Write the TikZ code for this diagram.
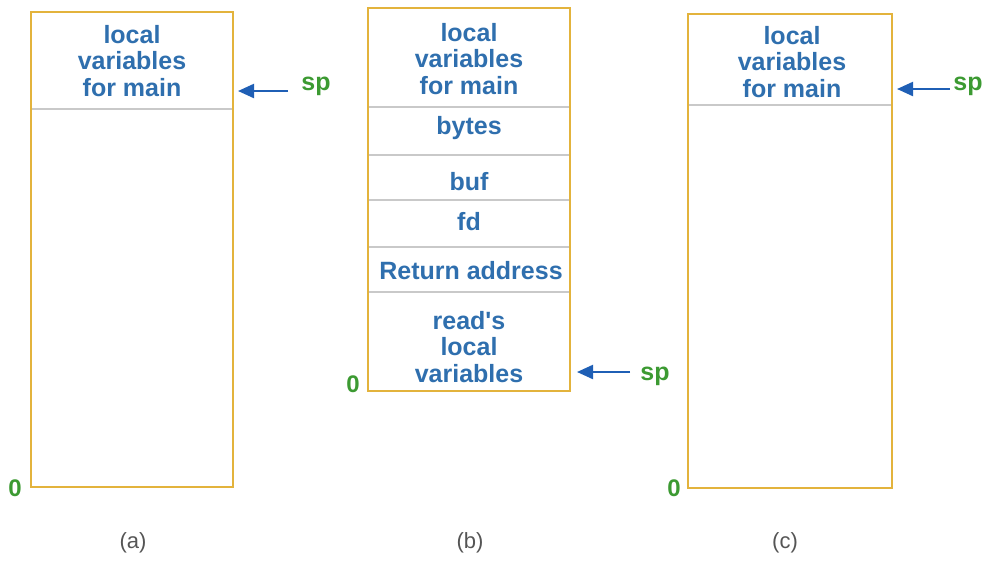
\documentclass[tikz,border=0pt]{standalone}
\usepackage{fontspec}
\setmainfont{Liberation Sans}[Ligatures=TeXOff]
\usetikzlibrary{arrows.meta}
\definecolor{frameyellow}{HTML}{E3B33C}
\definecolor{rulegrey}{HTML}{C9C9C9}
\definecolor{textblue}{HTML}{2F6FAE}
\definecolor{spgreen}{HTML}{3C9A32}
\definecolor{arrowblue}{HTML}{1F5FB5}
\definecolor{capgrey}{HTML}{555555}
\begin{document}
\begin{tikzpicture}[x=0.5pt,y=-0.5pt,
  frame/.style={draw=frameyellow,line width=1.1pt},
  divider/.style={draw=rulegrey,line width=0.7pt},
  cell/.style={text=textblue,font=\fontsize{12.5}{13.4}\selectfont\bfseries,align=center,inner sep=0pt},
  splabel/.style={text=spgreen,font=\fontsize{12.5}{13}\selectfont\bfseries,inner sep=0pt},
  zerolabel/.style={text=spgreen,font=\fontsize{12}{13}\selectfont\bfseries,inner sep=0pt},
  caption/.style={text=capgrey,font=\fontsize{11}{12}\selectfont,inner sep=0pt},
  sparrow/.style={draw=arrowblue,line width=1.1pt,-{Triangle[length=8pt,width=7pt]}}]
\useasboundingbox (0,0) rectangle (990,563);

% ---- stack (a) ----
\draw[divider] (31,109) -- (233,109);
\draw[frame] (31,12) rectangle (233,487);
\node[cell] (a-main) at (132,61) {local\\variables\\for main};
\node[splabel] (a-sp) at (316,86) {sp};
\coordinate (a-tail) at (288,91);
\coordinate (a-tip) at (238,91);
\draw[sparrow] (a-tail) -- (a-tip);
\node[zerolabel] (a-zero) at (15,488) {0};
\node[caption] (a-cap) at (133,543) {(a)};

% ---- stack (b) ----
\foreach \y in {107,155,200,247,292} \draw[divider] (368,\y) -- (570,\y);
\draw[frame] (368,8) rectangle (570,391);
\node[cell] (b-main) at (469,59) {local\\variables\\for main};
\node[cell] (b-bytes) at (469,128) {bytes};
\node[cell] (b-buf) at (469,182) {buf};
\node[cell] (b-fd) at (469,222) {fd};
\node[cell] (b-ret) at (471,271) {Return address};
\node[cell] (b-read) at (469,347) {read's\\local\\variables};
\node[splabel] (b-sp) at (655,376) {sp};
\coordinate (b-tail) at (630,372);
\coordinate (b-tip) at (577,372);
\draw[sparrow] (b-tail) -- (b-tip);
\node[zerolabel] (b-zero) at (353,384) {0};
\node[caption] (b-cap) at (470,543) {(b)};

% ---- stack (c) ----
\draw[divider] (688,105) -- (892,105);
\draw[frame] (688,14) rectangle (892,488);
\node[cell] (c-main) at (792,62) {local\\variables\\for main};
\node[splabel] (c-sp) at (968,86) {sp};
\coordinate (c-tail) at (950,89);
\coordinate (c-tip) at (897,89);
\draw[sparrow] (c-tail) -- (c-tip);
\node[zerolabel] (c-zero) at (674,488) {0};
\node[caption] (c-cap) at (785,543) {(c)};
\end{tikzpicture}
\end{document}
